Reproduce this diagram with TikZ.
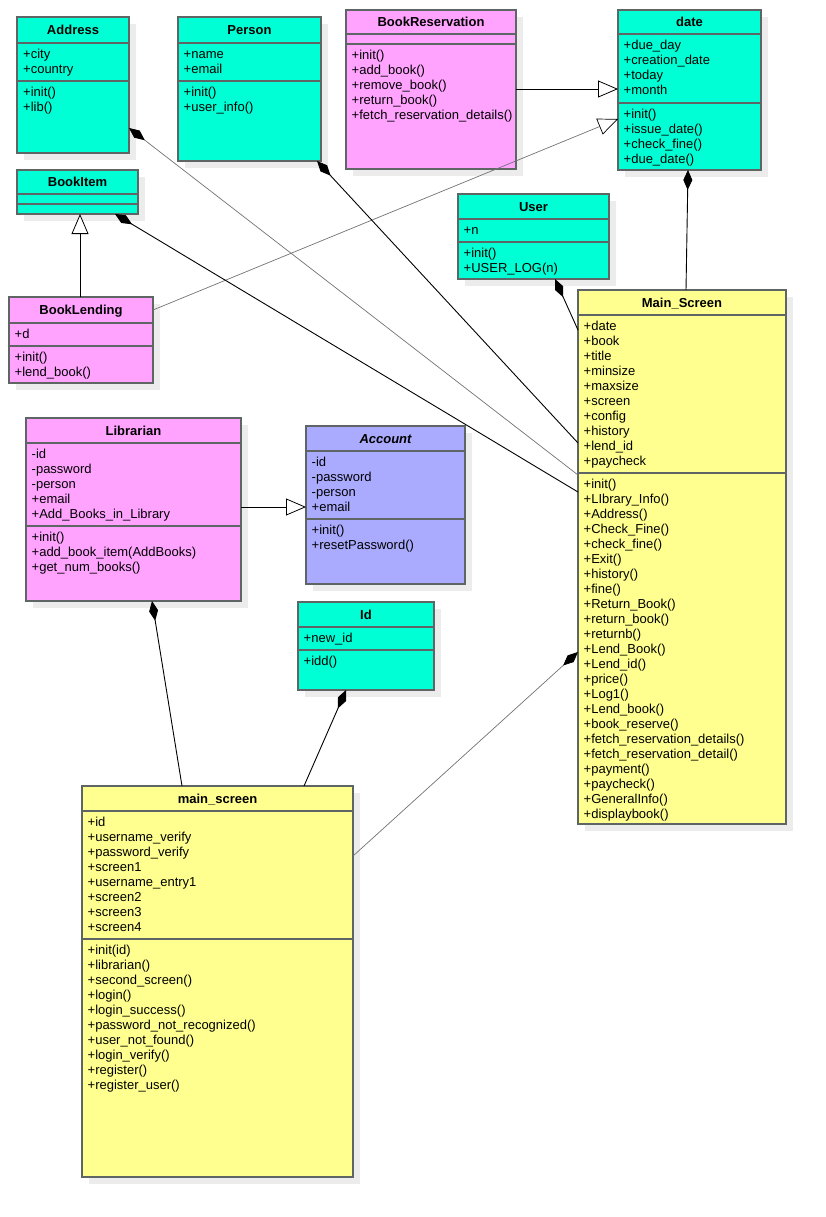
\documentclass[tikz,border=0pt]{standalone}
\usepackage{fontspec}
\setmainfont{Liberation Sans}
\usetikzlibrary{arrows.meta,calc}
\definecolor{cteal}{RGB}{0,255,212}
\definecolor{cpink}{RGB}{255,163,255}
\definecolor{cyellow}{RGB}{255,255,143}
\definecolor{cblue}{RGB}{170,170,255}
\definecolor{cborder}{RGB}{95,100,100}
\definecolor{cshadow}{RGB}{236,236,236}
\tikzset{
  boxtext/.style={anchor=north west, inner sep=0pt, align=left, font=\fontsize{13}{15}\selectfont},
  ctitle/.style={inner sep=0pt, text height=9.4pt, text depth=0pt, font=\fontsize{13}{15}\selectfont\bfseries},
  sepline/.style={draw=cborder, line width=1.2pt},
  umlframe/.style={draw=cborder, line width=1.2pt, anchor=north west, inner sep=0pt, outer sep=0pt},
  comp/.style={{Diamond[length=20pt,width=9pt,color=black]}-, draw=black, line width=0.9pt},
  compg/.style={{Diamond[length=20pt,width=9pt,color=black]}-, draw=black!55, line width=0.7pt},
  gen/.style={-{Triangle[open,fill=white,length=20pt,width=17pt,color=black]}, draw=black, line width=0.8pt},
  geng/.style={-{Triangle[open,fill=white,length=20pt,width=17pt,color=black]}, draw=black!55, line width=0.7pt},
}
% #1 name, #2 x1, #3 y1, #4 x2, #5 y2, #6 header sep, #7 attr sep, #8 fill, #9 title
\newcommand\umlbox[9]{%
  \fill[cshadow] (#2+7,#3+7) rectangle (#4+7,#5+7);
  \node[umlframe, fill=#8, minimum width={(#4-#2)*1pt}, minimum height={(#5-#3)*1pt}] (#1) at (#2,#3) {};
  \draw[sepline] (#2,#6) -- (#4,#6) (#2,#7) -- (#4,#7);
  \node[ctitle] (#1-t) at ({(#2+#4)/2},{(#3+#6)/2}) {#9};
}
\newcommand\umltext[4]{\node[boxtext] (#1) at (#2,#3) {\strut #4};}
\begin{document}
\begin{tikzpicture}[x=1pt,y=-1pt]
\useasboundingbox (0,0) rectangle (826,1217);
\fill[white] (0,0) rectangle (826,1217);

% Address
\umlbox{addr}{17}{17}{129}{153}{43}{81}{cteal}{Address}
\umltext{addr-a}{23}{47.5}{+city\\+country}
\umltext{addr-m}{23}{85.5}{+init()\\+lib()}

% Person
\umlbox{person}{178}{17}{321}{161}{43}{81}{cteal}{Person}
\umltext{person-a}{183.5}{47.5}{+name\\+email}
\umltext{person-m}{183.5}{85.5}{+init()\\+user\_info()}

% BookReservation
\umlbox{bres}{346}{10}{516}{169}{34}{44}{cpink}{BookReservation}
\umltext{bres-m}{351.5}{48.5}{+init()\\+add\_book()\\+remove\_book()\\+return\_book()\\+fetch\_reservation\_details()}

% date
\umlbox{date}{618}{10}{761}{170}{34}{103}{cteal}{date}
\umltext{date-a}{623.5}{38.5}{+due\_day\\+creation\_date\\+today\\+month}
\umltext{date-m}{623.5}{107.5}{+init()\\+issue\_date()\\+check\_fine()\\+due\_date()}

% BookItem
\umlbox{bitem}{17}{170}{138}{214}{194}{204}{cteal}{BookItem}

% BookLending
\umlbox{blend}{9}{297}{153}{383}{323}{346}{cpink}{BookLending}
\umltext{blend-a}{14.5}{328}{+d}
\umltext{blend-m}{14.5}{350.5}{+init()\\+lend\_book()}

% User
\umlbox{user}{458}{194}{609}{279}{219}{242}{cteal}{User}
\umltext{user-a}{463.5}{224}{+n}
\umltext{user-m}{463.5}{246.5}{+init()\\+USER\_LOG(n)}

% Main_Screen
\umlbox{mscr}{578}{290}{786}{824}{315}{473}{cyellow}{Main\_Screen}
\umltext{mscr-a}{583.5}{319.5}{+date\\+book\\+title\\+minsize\\+maxsize\\+screen\\+config\\+history\\+lend\_id\\+paycheck}
\umltext{mscr-m}{583.5}{477.5}{+init()\\+LIbrary\_Info()\\+Address()\\+Check\_Fine()\\+check\_fine()\\+Exit()\\+history()\\+fine()\\+Return\_Book()\\+return\_book()\\+returnb()\\+Lend\_Book()\\+Lend\_id()\\+price()\\+Log1()\\+Lend\_book()\\+book\_reserve()\\+fetch\_reservation\_details()\\+fetch\_reservation\_detail()\\+payment()\\+paycheck()\\+GeneralInfo()\\+displaybook()}

% Librarian
\umlbox{lib}{26}{418}{241}{601}{443}{526}{cpink}{Librarian}
\umltext{lib-a}{31.5}{447.5}{-id\\-password\\-person\\+email\\+Add\_Books\_in\_Library}
\umltext{lib-m}{31.5}{530.5}{+init()\\+add\_book\_item(AddBooks)\\+get\_num\_books()}

% Account
\umlbox{acct}{306}{426}{465}{584}{451}{519}{cblue}{\itshape Account}
\umltext{acct-a}{311.5}{455.5}{-id\\-password\\-person\\+email}
\umltext{acct-m}{311.5}{523.5}{+init()\\+resetPassword()}

% Id
\umlbox{id}{298}{602}{434}{690}{627}{650}{cteal}{Id}
\umltext{id-a}{303.5}{631.5}{+new\_id}
\umltext{id-m}{303.5}{654.5}{+idd()}

% main_screen
\umlbox{msc2}{82}{786}{353}{1177}{811}{939}{cyellow}{main\_screen}
\umltext{msc2-a}{87.5}{815.5}{+id\\+username\_verify\\+password\_verify\\+screen1\\+username\_entry1\\+screen2\\+screen3\\+screen4}
\umltext{msc2-m}{87.5}{943.5}{+init(id)\\+librarian()\\+second\_screen()\\+login()\\+login\_success()\\+password\_not\_recognized()\\+user\_not\_found()\\+login\_verify()\\+register()\\+register\_user()}

% generalizations
\draw[gen] ($(bres.north east)+(0,79)$) -- ($(date.north west)+(0,79)$);
\draw[geng] ($(blend.north east)+(0,13)$) -- ($(date.north west)+(0,109)$);
\draw[gen] ($(blend.north west)+(71,0)$) -- ($(bitem.south west)+(63,0)$);
\draw[gen] ($(lib.north east)+(0,89)$) -- ($(acct.north west)+(0,81)$);

% compositions
\draw[compg] ($(addr.north east)+(0,111)$) -- ($(mscr.north west)+(0,185)$);
\draw[comp] ($(person.south east)+(-4,0)$) -- ($(mscr.north west)+(0,153)$);
\draw[comp] ($(bitem.south east)+(-23,0)$) -- ($(mscr.north west)+(0,202)$);
\draw[comp] ($(date.south west)+(70,0)$) -- ($(mscr.north west)+(108,0)$);
\draw[comp] ($(user.south west)+(97,0)$) -- ($(mscr.north west)+(0,40)$);
\draw[comp] ($(lib.south west)+(126,0)$) -- ($(msc2.north west)+(100,0)$);
\draw[comp] ($(id.south west)+(48,0)$) -- ($(msc2.north west)+(222,0)$);
\draw[compg] ($(mscr.north west)+(0,362)$) -- ($(msc2.north east)+(0,70)$);
\end{tikzpicture}
\end{document}
